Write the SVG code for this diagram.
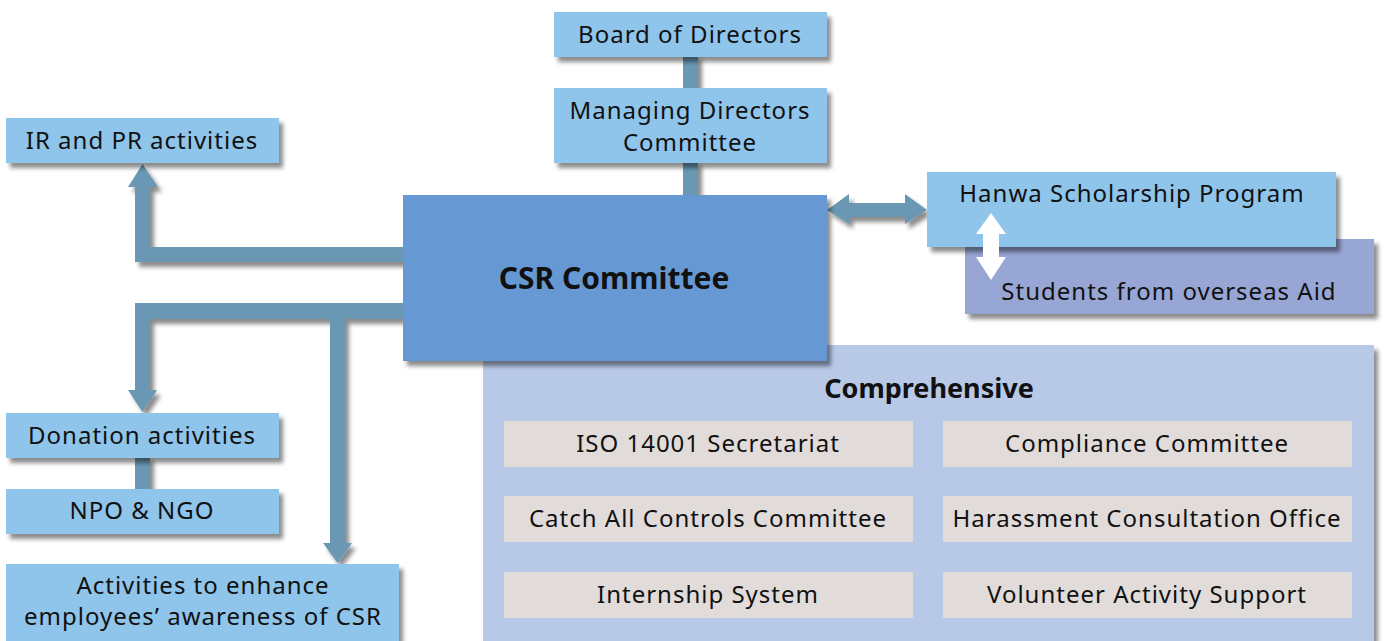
<svg xmlns="http://www.w3.org/2000/svg" width="1384" height="641" viewBox="0 0 1384 641">
<defs>
<filter id="sh" x="-10%" y="-10%" width="130%" height="140%">
<feDropShadow dx="4" dy="5" stdDeviation="2" flood-color="#000" flood-opacity="0.45"/>
</filter>
</defs>
<style>
.lb{fill:#8fc4eb;filter:url(#sh)}
.csr{fill:#6699d3;filter:url(#sh)}
.stu{fill:#98a6d5;filter:url(#sh)}
.comp{fill:#b8c8e7;filter:url(#sh)}
.inner{fill:#e1dcda}
.con{fill:#6b98b4}
text{font-family:"Noto Sans","Open Sans",sans-serif;font-size:24px;letter-spacing:1px;fill:#111;text-anchor:middle}
.b{font-weight:bold;letter-spacing:0}
</style>
<rect width="1384" height="641" fill="#fff"/>
<g id="connectors" filter="url(#sh)">
<rect class="con" x="683" y="55" width="15" height="35"/>
<rect class="con" x="683" y="161" width="15" height="36"/>
<rect class="con" x="135" y="456" width="15" height="35"/>
<polygon class="con" points="405,247 150,247 150,187 158,187 142.5,164 128,187 135,187 135,262 405,262"/>
<polygon class="con" points="405,303 135,303 135,390 128,390 142.5,412 157,390 150,390 150,319 330,319 330,543 323,543 337.5,563 352,543 345,543 345,319 405,319"/>
<polygon class="con" points="827,210 849,194 849,203 905,203 905,194 927,210 905,224 905,217 849,217 849,224"/>
</g>
<g id="comprehensive">
<rect class="comp" x="483" y="345" width="891" height="300"/>
<text class="b" x="929" y="398" style="font-size:27px">Comprehensive</text>
</g>
<g id="iso"><rect class="inner" x="504" y="421" width="409" height="46"/><text x="708" y="452">ISO 14001 Secretariat</text></g>
<g id="compliance"><rect class="inner" x="943" y="421" width="409" height="46"/><text x="1147" y="452">Compliance Committee</text></g>
<g id="catchall"><rect class="inner" x="504" y="496" width="409" height="46"/><text x="708" y="527">Catch All Controls Committee</text></g>
<g id="harassment"><rect class="inner" x="943" y="496" width="409" height="46"/><text x="1147" y="527">Harassment Consultation Office</text></g>
<g id="internship"><rect class="inner" x="504" y="572" width="409" height="46"/><text x="708" y="603">Internship System</text></g>
<g id="volunteer"><rect class="inner" x="943" y="572" width="409" height="46"/><text x="1147" y="603">Volunteer Activity Support</text></g>
<g id="csr"><rect class="csr" x="403" y="195" width="424" height="166"/><text class="b" x="614" y="289" style="font-size:30px">CSR Committee</text></g>
<g id="board"><rect class="lb" x="554" y="12" width="273" height="45"/><text x="690" y="43">Board of Directors</text></g>
<g id="managing"><rect class="lb" x="554" y="88" width="273" height="75"/><text x="690" y="119">Managing Directors</text><text x="690" y="151">Committee</text></g>
<g id="ir"><rect class="lb" x="6" y="118" width="273" height="45"/><text x="142" y="149">IR and PR activities</text></g>
<g id="donation"><rect class="lb" x="6" y="413" width="273" height="45"/><text x="142" y="444">Donation activities</text></g>
<g id="npo"><rect class="lb" x="6" y="489" width="273" height="45"/><text x="142" y="519">NPO &amp; NGO</text></g>
<g id="awareness"><rect class="lb" x="6" y="564" width="393" height="80"/><text x="203" y="594">Activities to enhance</text><text x="203" y="625">employees’ awareness of CSR</text></g>
<g id="students"><rect class="stu" x="965" y="239" width="409" height="75"/><text x="1169" y="300">Students from overseas Aid</text></g>
<g id="hanwa"><rect class="lb" x="927" y="172" width="409" height="75"/><text x="1132" y="202">Hanwa Scholarship Program</text></g>
<g id="white-arrow"><polygon fill="#fff" points="991,213 1006,234 999,234 999,257 1006,257 991,280 976,257 983,257 983,234 976,234"/></g>
</svg>
